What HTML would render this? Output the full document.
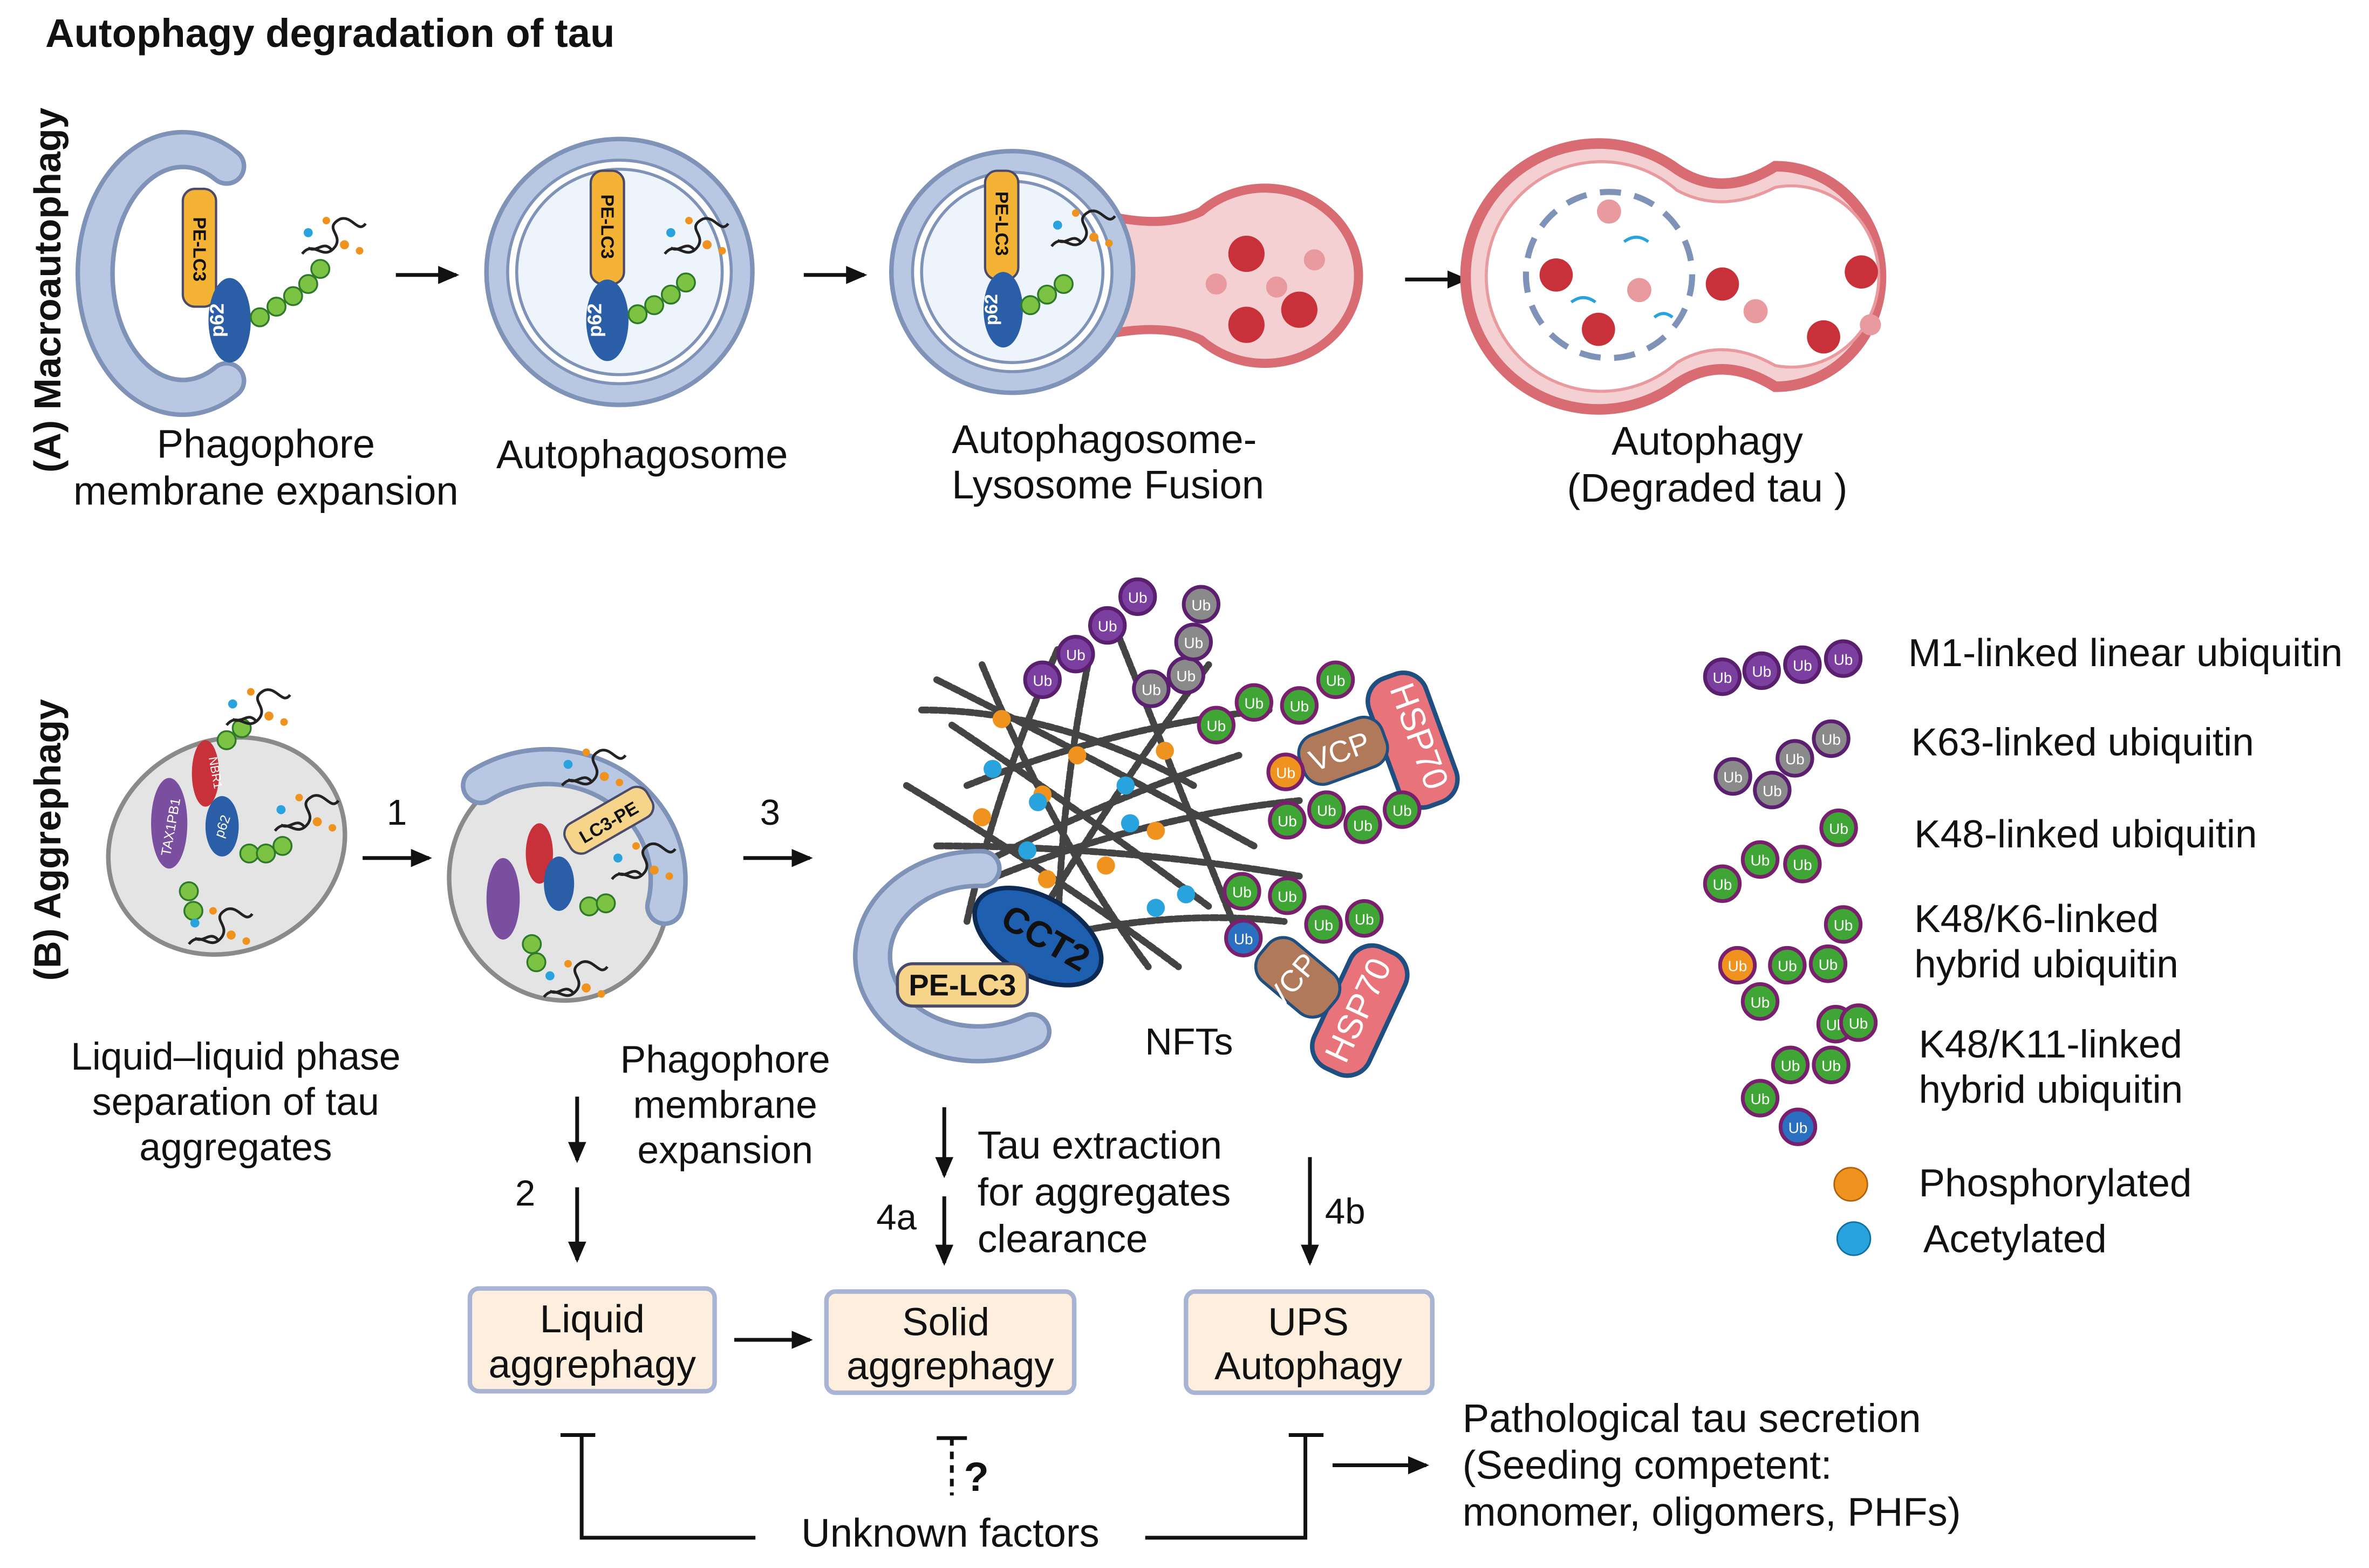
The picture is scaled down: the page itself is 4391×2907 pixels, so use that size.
<!DOCTYPE html>
<html><head><meta charset="utf-8"><style>
html,body{margin:0;padding:0;background:#fff;}
svg{display:block;}
text{font-family:"Liberation Sans",Arial,sans-serif;fill:#111;}
</style></head><body>
<svg width="4391" height="2907" viewBox="0 0 1568 1038" xmlns="http://www.w3.org/2000/svg">
<defs>
<marker id="ah2" markerWidth="14" markerHeight="12" refX="12" refY="6" orient="auto" markerUnits="userSpaceOnUse"><path d="M0,0 L14,6 L0,12 z" fill="#111"/></marker>
<g id="ubg"><circle r="11.5" fill="#3fa535" stroke="#7a1f6e" stroke-width="2.5"/><text x="0" y="4" font-size="10" text-anchor="middle" style="fill:#fff">Ub</text></g>
<g id="ubp"><circle r="11.5" fill="#7b3fa0" stroke="#5a1f6e" stroke-width="2.5"/><text x="0" y="4" font-size="10" text-anchor="middle" style="fill:#fff">Ub</text></g>
<g id="ubgr"><circle r="11.5" fill="#8a8a8a" stroke="#5a1f6e" stroke-width="2.5"/><text x="0" y="4" font-size="10" text-anchor="middle" style="fill:#fff">Ub</text></g>
<g id="ubo"><circle r="11.5" fill="#f0921e" stroke="#7a1f6e" stroke-width="2.5"/><text x="0" y="4" font-size="10" text-anchor="middle" style="fill:#fff">Ub</text></g>
<g id="ubb"><circle r="11.5" fill="#2a6fc0" stroke="#7a1f6e" stroke-width="2.5"/><text x="0" y="4" font-size="10" text-anchor="middle" style="fill:#fff">Ub</text></g>
<g id="sg"><circle r="6" fill="#7cc243" stroke="#2f7a2a" stroke-width="1.2"/></g>
<g id="tau"><path d="M0,0 c8,-10 14,6 22,-5 c5,-8 -8,-12 3,-18 c8,-3 12,10 17,3 M4,-4 c6,4 10,-6 16,2" fill="none" stroke="#222" stroke-width="1.8"/><circle cx="4" cy="-14" r="3" fill="#29a3dd"/><circle cx="28" cy="-6" r="3" fill="#f0921e"/><circle cx="16" cy="-22" r="2.5" fill="#f0921e"/><circle cx="38" cy="-2" r="2.5" fill="#f0921e"/></g>
</defs>

<text x="30" y="31" font-size="26.5" font-weight="bold">Autophagy degradation of tau</text>
<text transform="translate(40,192) rotate(-90)" font-size="25" font-weight="bold" text-anchor="middle">(A) Macroautophagy</text>
<text transform="translate(40,556) rotate(-90)" font-size="25" font-weight="bold" text-anchor="middle">(B) Aggrephagy</text>

<!-- A1 phagophore -->
<path d="M150,110 A58,82 0 1 0 150,252" fill="none" stroke="#7f93b8" stroke-width="26" stroke-linecap="round"/>
<path d="M150,110 A58,82 0 1 0 150,252" fill="none" stroke="#b9c8e2" stroke-width="20" stroke-linecap="round"/>
<rect x="121" y="125" width="22" height="78" rx="8" fill="#f5b335" stroke="#4a4a6a" stroke-width="1.5"/>
<text transform="translate(128,165) rotate(90)" font-size="12" font-weight="bold" text-anchor="middle">PE-LC3</text>
<ellipse cx="152" cy="212" rx="14" ry="28" fill="#2a5fa8"/>
<text transform="translate(148,212) rotate(-90)" font-size="13" font-weight="bold" text-anchor="middle" style="fill:#fff">p62</text>
<use href="#sg" x="172" y="210"/><use href="#sg" x="183" y="203"/><use href="#sg" x="194" y="196"/><use href="#sg" x="204" y="188"/><use href="#sg" x="212" y="178"/>
<use href="#tau" x="200" y="168"/>
<line x1="262" y1="182" x2="302" y2="182" stroke="#111" stroke-width="2.5" marker-end="url(#ah2)"/>
<text x="176" y="303" font-size="26.5" text-anchor="middle">Phagophore</text>
<text x="176" y="334" font-size="26.5" text-anchor="middle">membrane expansion</text>

<!-- A2 -->
<circle cx="410" cy="180" r="88" fill="#b9c8e2" stroke="#7f93b8" stroke-width="3"/>
<circle cx="410" cy="180" r="74" fill="#fff" stroke="#7f93b8" stroke-width="2"/>
<circle cx="410" cy="180" r="68" fill="#eef4fb" stroke="#7f93b8" stroke-width="2"/>
<rect x="391" y="113" width="22" height="75" rx="8" fill="#f5b335" stroke="#4a4a6a" stroke-width="1.5"/>
<text transform="translate(398,150) rotate(90)" font-size="12" font-weight="bold" text-anchor="middle">PE-LC3</text>
<ellipse cx="402" cy="212" rx="14" ry="27" fill="#2a5fa8"/>
<text transform="translate(398,212) rotate(-90)" font-size="13" font-weight="bold" text-anchor="middle" style="fill:#fff">p62</text>
<use href="#sg" x="422" y="208"/><use href="#sg" x="433" y="202"/><use href="#sg" x="444" y="195"/><use href="#sg" x="454" y="187"/>
<use href="#tau" x="440" y="168"/>
<line x1="532" y1="182" x2="572" y2="182" stroke="#111" stroke-width="2.5" marker-end="url(#ah2)"/>
<text x="425" y="310" font-size="26.5" text-anchor="middle">Autophagosome</text>

<!-- A3 fusion -->
<path d="M730,142 Q770,152 795,140 A62,58 0 1 1 795,225 Q770,213 730,222 z" fill="#f4d0d2" stroke="#d96b72" stroke-width="6"/>
<circle cx="670" cy="180" r="80" fill="#b9c8e2" stroke="#7f93b8" stroke-width="3"/>
<circle cx="670" cy="180" r="66" fill="#fff" stroke="#7f93b8" stroke-width="2"/>
<circle cx="670" cy="180" r="60" fill="#eef4fb" stroke="#7f93b8" stroke-width="2"/>
<rect x="652" y="113" width="22" height="72" rx="8" fill="#f5b335" stroke="#4a4a6a" stroke-width="1.5"/>
<text transform="translate(659,148) rotate(90)" font-size="12" font-weight="bold" text-anchor="middle">PE-LC3</text>
<ellipse cx="664" cy="205" rx="13" ry="25" fill="#2a5fa8"/>
<text transform="translate(660,205) rotate(-90)" font-size="12" font-weight="bold" text-anchor="middle" style="fill:#fff">p62</text>
<use href="#sg" x="682" y="202"/><use href="#sg" x="693" y="195"/><use href="#sg" x="704" y="188"/>
<use href="#tau" x="696" y="163"/>
<circle cx="825" cy="168" r="12" fill="#c8303a"/><circle cx="860" cy="205" r="12" fill="#c8303a"/><circle cx="825" cy="215" r="12" fill="#c8303a"/>
<circle cx="805" cy="188" r="7" fill="#e89a9f"/><circle cx="845" cy="190" r="7" fill="#e89a9f"/><circle cx="870" cy="172" r="7" fill="#e89a9f"/>
<line x1="930" y1="185" x2="970" y2="185" stroke="#111" stroke-width="2.5" marker-end="url(#ah2)"/>
<text x="630" y="300" font-size="26.5">Autophagosome-</text>
<text x="630" y="330" font-size="26.5">Lysosome Fusion</text>

<!-- A4 -->
<path d="M1110,112 A88,88 0 1 0 1110,254 Q1140,234 1175,256 A70,73 0 1 0 1175,110 Q1140,132 1110,112 z" fill="#f4d0d2" stroke="#d96b72" stroke-width="7"/>
<path d="M1110,126 A76,76 0 1 0 1110,240 Q1140,222 1175,242 A58,60 0 1 0 1175,124 Q1140,142 1110,126 z" fill="#fff" stroke="#e89a9f" stroke-width="2"/>
<circle cx="1065" cy="182" r="55" fill="none" stroke="#7f93b8" stroke-width="4" stroke-dasharray="14 9"/>
<circle cx="1030" cy="182" r="11" fill="#c8303a"/><circle cx="1058" cy="218" r="11" fill="#c8303a"/><circle cx="1140" cy="188" r="11" fill="#c8303a"/><circle cx="1232" cy="180" r="11" fill="#c8303a"/><circle cx="1207" cy="223" r="11" fill="#c8303a"/>
<circle cx="1085" cy="192" r="8" fill="#e89a9f"/><circle cx="1065" cy="140" r="8" fill="#e89a9f"/><circle cx="1162" cy="206" r="8" fill="#e89a9f"/><circle cx="1238" cy="215" r="7" fill="#e89a9f"/>
<g stroke="#29a3dd" stroke-width="2" fill="none"><path d="M1040,200 q8,-6 16,0"/><path d="M1075,160 q8,-6 16,0"/><path d="M1095,210 q6,-5 12,0"/></g>
<text x="1130" y="301" font-size="26.5" text-anchor="middle">Autophagy</text>
<text x="1130" y="332" font-size="26.5" text-anchor="middle">(Degraded tau )</text>

<!-- B1 cell -->
<ellipse cx="150" cy="560" rx="80" ry="70" transform="rotate(-25 150 560)" fill="#e4e4e4" stroke="#8a8a8a" stroke-width="3"/>
<ellipse cx="112" cy="545" rx="12" ry="30" fill="#7b4fa0"/>
<text transform="translate(116,548) rotate(-80)" font-size="9" text-anchor="middle" style="fill:#fff">TAX1PB1</text>
<ellipse cx="136" cy="512" rx="9" ry="22" fill="#c8303a"/>
<text transform="translate(140,512) rotate(80)" font-size="8" text-anchor="middle" style="fill:#fff">NBR1</text>
<ellipse cx="147" cy="547" rx="11" ry="20" fill="#2a5fa8"/>
<text transform="translate(150,548) rotate(-70)" font-size="9" text-anchor="middle" style="fill:#fff">p62</text>
<use href="#sg" x="165" y="565"/><use href="#sg" x="176" y="565"/><use href="#sg" x="187" y="560"/><use href="#sg" x="125" y="590"/><use href="#sg" x="128" y="603"/><use href="#sg" x="150" y="490"/><use href="#sg" x="160" y="482"/>
<use href="#tau" x="150" y="480"/><use href="#tau" x="182" y="550"/><use href="#tau" x="125" y="625"/>
<text x="256" y="546" font-size="24">1</text>
<line x1="240" y1="568" x2="284" y2="568" stroke="#111" stroke-width="2.5" marker-end="url(#ah2)"/>
<text x="156" y="708" font-size="25.5" text-anchor="middle">Liquid–liquid phase</text>
<text x="156" y="738" font-size="25.5" text-anchor="middle">separation of tau</text>
<text x="156" y="768" font-size="25.5" text-anchor="middle">aggregates</text>

<!-- B2 -->
<ellipse cx="370" cy="585" rx="72" ry="78" transform="rotate(-20 370 585)" fill="#e4e4e4" stroke="#8a8a8a" stroke-width="3"/>
<path d="M318,520 A80,75 0 0 1 440,600" fill="none" stroke="#7f93b8" stroke-width="26" stroke-linecap="round"/>
<path d="M318,520 A80,75 0 0 1 440,600" fill="none" stroke="#b9c8e2" stroke-width="20" stroke-linecap="round"/>
<rect x="372" y="532" width="62" height="22" rx="8" transform="rotate(-30 403 543)" fill="#f6d58a" stroke="#4a4a6a" stroke-width="1.5"/>
<text transform="translate(405,548) rotate(-30)" font-size="12" font-weight="bold" text-anchor="middle">LC3-PE</text>
<ellipse cx="333" cy="595" rx="11" ry="27" fill="#7b4fa0"/>
<ellipse cx="357" cy="565" rx="9" ry="20" fill="#c8303a"/>
<ellipse cx="370" cy="585" rx="10" ry="18" fill="#2a5fa8"/>
<use href="#sg" x="390" y="600"/><use href="#sg" x="401" y="598"/><use href="#sg" x="352" y="625"/><use href="#sg" x="355" y="637"/>
<use href="#tau" x="372" y="520"/><use href="#tau" x="405" y="582"/><use href="#tau" x="360" y="660"/>
<text x="503" y="546" font-size="24">3</text>
<line x1="492" y1="568" x2="536" y2="568" stroke="#111" stroke-width="2.5" marker-end="url(#ah2)"/>
<text x="480" y="710" font-size="25.5" text-anchor="middle">Phagophore</text>
<text x="480" y="740" font-size="25.5" text-anchor="middle">membrane</text>
<text x="480" y="770" font-size="25.5" text-anchor="middle">expansion</text>

<!-- NFTs -->
<g stroke="#444" stroke-width="4.5" fill="none" stroke-dasharray="4 2" stroke-linecap="round">
<path d="M620,450 Q720,500 830,560"/><path d="M640,520 Q740,480 840,470"/><path d="M600,600 Q700,540 820,500"/><path d="M650,440 Q700,560 760,640"/><path d="M700,430 Q660,520 640,610"/><path d="M620,560 Q740,560 860,580"/><path d="M680,620 Q740,520 800,440"/><path d="M740,420 Q780,520 820,620"/><path d="M630,480 Q720,540 800,600"/><path d="M660,580 Q760,540 860,530"/><path d="M720,440 Q700,540 700,640"/><path d="M600,520 Q700,580 780,640"/><path d="M610,470 Q700,470 790,520"/><path d="M660,630 Q760,600 850,610"/>
</g>
<g fill="#f0921e"><circle cx="663" cy="476" r="6"/><circle cx="713" cy="500" r="6"/><circle cx="771" cy="497" r="6"/><circle cx="650" cy="541" r="6"/><circle cx="732" cy="573" r="6"/><circle cx="765" cy="550" r="6"/><circle cx="693" cy="582" r="6"/><circle cx="690" cy="526" r="6"/></g>
<g fill="#29a3dd"><circle cx="657" cy="509" r="6"/><circle cx="687" cy="531" r="6"/><circle cx="680" cy="563" r="6"/><circle cx="748" cy="545" r="6"/><circle cx="765" cy="601" r="6"/><circle cx="785" cy="592" r="6"/><circle cx="745" cy="520" r="6"/></g>
<path d="M650,575 A70,58 0 1 0 683,683" fill="none" stroke="#7f93b8" stroke-width="26" stroke-linecap="round"/>
<path d="M650,575 A70,58 0 1 0 683,683" fill="none" stroke="#b9c8e2" stroke-width="20" stroke-linecap="round"/>
<ellipse cx="687" cy="620" rx="46" ry="26" transform="rotate(30 687 620)" fill="#1f5fb0" stroke="#0d2a55" stroke-width="3"/>
<text transform="translate(688,628) rotate(30)" font-size="24" font-weight="bold" text-anchor="middle">CCT2</text>
<rect x="594" y="638" width="86" height="28" rx="10" fill="#f6d58a" stroke="#4a4a6a" stroke-width="2"/>
<text x="637" y="659" font-size="20" font-weight="bold" text-anchor="middle">PE-LC3</text>
<use href="#ubp" x="690" y="450"/><use href="#ubp" x="712" y="433"/><use href="#ubp" x="733" y="414"/><use href="#ubp" x="753" y="395"/>
<use href="#ubgr" x="762" y="456"/><use href="#ubgr" x="785" y="447"/><use href="#ubgr" x="790" y="425"/><use href="#ubgr" x="795" y="400"/>
<use href="#ubg" x="805" y="480"/><use href="#ubg" x="830" y="465"/><use href="#ubg" x="860" y="467"/><use href="#ubg" x="884" y="450"/>
<rect x="915" y="445" width="40" height="90" rx="16" transform="rotate(-20 935 490)" fill="#e8737a" stroke="#1f4f80" stroke-width="3"/>
<text transform="translate(932,490) rotate(70)" font-size="23" text-anchor="middle" style="fill:#fff">HSP70</text>
<rect x="860" y="480" width="58" height="34" rx="13" transform="rotate(-20 889 497)" fill="#b07a5a" stroke="#1f4f80" stroke-width="2"/>
<text transform="translate(889,504) rotate(-20)" font-size="20" text-anchor="middle" style="fill:#fff">VCP</text>
<use href="#ubo" x="851" y="511"/>
<use href="#ubg" x="852" y="543"/><use href="#ubg" x="878" y="536"/><use href="#ubg" x="902" y="546"/><use href="#ubg" x="928" y="536"/>
<use href="#ubg" x="822" y="590"/><use href="#ubg" x="852" y="593"/><use href="#ubg" x="876" y="612"/><use href="#ubg" x="903" y="608"/>
<rect x="880" y="625" width="40" height="88" rx="16" transform="rotate(25 900 669)" fill="#e8737a" stroke="#1f4f80" stroke-width="3"/>
<text transform="translate(906,672) rotate(-65)" font-size="23" text-anchor="middle" style="fill:#fff">HSP70</text>
<rect x="830" y="630" width="58" height="34" rx="13" transform="rotate(40 859 647)" fill="#b07a5a" stroke="#1f4f80" stroke-width="2"/>
<text transform="translate(860,654) rotate(-50)" font-size="20" text-anchor="middle" style="fill:#fff">VCP</text>
<use href="#ubb" x="823" y="621"/>
<text x="787" y="698" font-size="25" text-anchor="middle">NFTs</text>

<!-- legend -->
<use href="#ubp" x="1140" y="448"/><use href="#ubp" x="1166" y="444"/><use href="#ubp" x="1193" y="440"/><use href="#ubp" x="1220" y="436"/>
<text x="1263" y="441" font-size="26">M1-linked linear ubiquitin</text>
<use href="#ubgr" x="1147" y="514"/><use href="#ubgr" x="1173" y="523"/><use href="#ubgr" x="1188" y="502"/><use href="#ubgr" x="1212" y="489"/>
<text x="1265" y="500" font-size="26">K63-linked ubiquitin</text>
<use href="#ubg" x="1140" y="585"/><use href="#ubg" x="1165" y="569"/><use href="#ubg" x="1193" y="572"/><use href="#ubg" x="1217" y="548"/>
<text x="1267" y="561" font-size="26">K48-linked ubiquitin</text>
<use href="#ubo" x="1150" y="639"/><use href="#ubg" x="1165" y="663"/><use href="#ubg" x="1183" y="639"/><use href="#ubg" x="1210" y="638"/><use href="#ubg" x="1220" y="612"/>
<text x="1267" y="617" font-size="26">K48/K6-linked</text>
<text x="1267" y="647" font-size="26">hybrid ubiquitin</text>
<use href="#ubg" x="1165" y="727"/><use href="#ubg" x="1185" y="705"/><use href="#ubg" x="1212" y="705"/><use href="#ubg" x="1215" y="678"/><use href="#ubg" x="1230" y="677"/><use href="#ubb" x="1190" y="746"/>
<text x="1270" y="700" font-size="26">K48/K11-linked</text>
<text x="1270" y="730" font-size="26">hybrid ubiquitin</text>
<circle cx="1225" cy="784" r="11" fill="#f0921e" stroke="#b06010"/>
<text x="1270" y="792" font-size="26">Phosphorylated</text>
<circle cx="1227" cy="820" r="11" fill="#29a3dd" stroke="#1070a0"/>
<text x="1273" y="829" font-size="26">Acetylated</text>

<!-- flow arrows -->
<line x1="382" y1="726" x2="382" y2="768" stroke="#111" stroke-width="2.5" marker-end="url(#ah2)"/>
<text x="341" y="798" font-size="24">2</text>
<line x1="382" y1="786" x2="382" y2="834" stroke="#111" stroke-width="2.5" marker-end="url(#ah2)"/>
<line x1="625" y1="733" x2="625" y2="778" stroke="#111" stroke-width="2.5" marker-end="url(#ah2)"/>
<text x="580" y="814" font-size="24">4a</text>
<line x1="625" y1="792" x2="625" y2="836" stroke="#111" stroke-width="2.5" marker-end="url(#ah2)"/>
<text x="647" y="767" font-size="26">Tau extraction</text>
<text x="647" y="798" font-size="26">for aggregates</text>
<text x="647" y="829" font-size="26">clearance</text>
<line x1="867" y1="766" x2="867" y2="836" stroke="#111" stroke-width="2.5" marker-end="url(#ah2)"/>
<text x="877" y="810" font-size="24">4b</text>

<rect x="311" y="853" width="162" height="68" rx="6" fill="#fdeedd" stroke="#a8b4d4" stroke-width="3"/>
<text x="392" y="882" font-size="26" text-anchor="middle">Liquid</text>
<text x="392" y="912" font-size="26" text-anchor="middle">aggrephagy</text>
<rect x="547" y="855" width="164" height="67" rx="6" fill="#fdeedd" stroke="#a8b4d4" stroke-width="3"/>
<text x="626" y="884" font-size="26" text-anchor="middle">Solid</text>
<text x="629" y="913" font-size="26" text-anchor="middle">aggrephagy</text>
<rect x="785" y="855" width="163" height="67" rx="6" fill="#fdeedd" stroke="#a8b4d4" stroke-width="3"/>
<text x="866" y="884" font-size="26" text-anchor="middle">UPS</text>
<text x="866" y="913" font-size="26" text-anchor="middle">Autophagy</text>
<line x1="486" y1="887" x2="536" y2="887" stroke="#111" stroke-width="2.5" marker-end="url(#ah2)"/>

<!-- inhibition -->
<g stroke="#111" stroke-width="2.5" fill="none">
<path d="M371,950 L394,950 M385,950 L385,1018 L500,1018"/>
<path d="M853,950 L876,950 M864,950 L864,1018 L758,1018"/>
<path d="M620,952 L640,952"/>
<path d="M630,952 L630,990" stroke-dasharray="5 4"/>
</g>
<text x="638" y="987" font-size="27" font-weight="bold">?</text>
<text x="629" y="1024" font-size="26.5" text-anchor="middle">Unknown factors</text>
<line x1="882" y1="970" x2="944" y2="970" stroke="#111" stroke-width="2.5" marker-end="url(#ah2)"/>
<text x="968" y="948" font-size="26.5">Pathological tau secretion</text>
<text x="968" y="979" font-size="26.5">(Seeding competent:</text>
<text x="968" y="1010" font-size="26.5">monomer, oligomers, PHFs)</text>
</svg>
</body></html>
